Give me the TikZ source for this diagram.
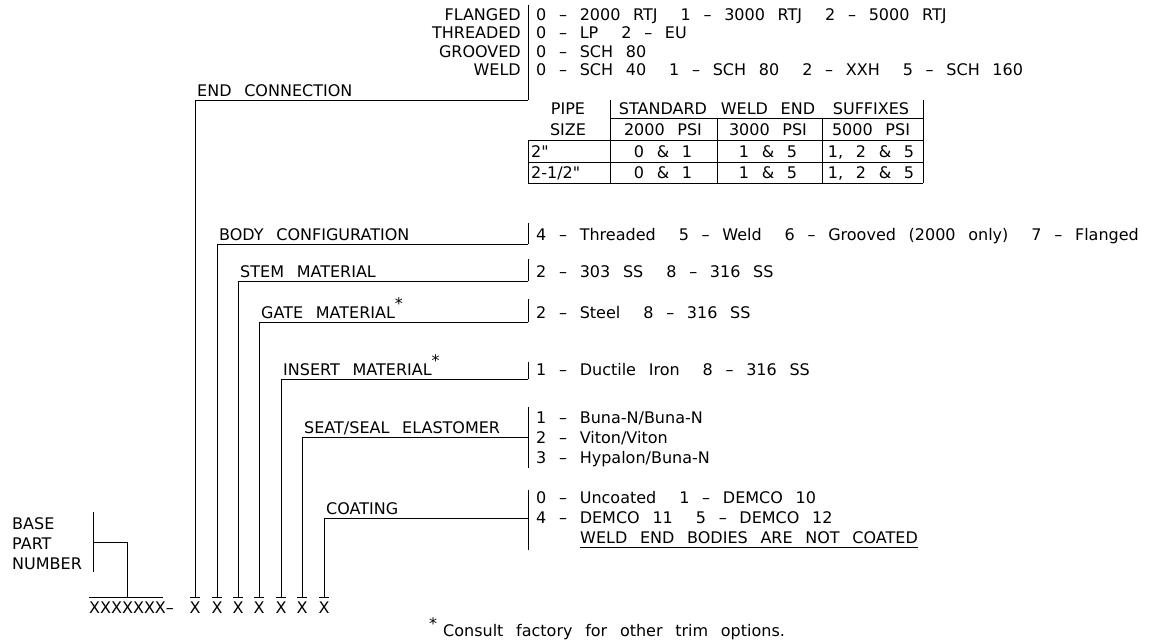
\documentclass[tikz,border=0pt]{standalone}
\usepackage{fontspec}
\setmainfont{DejaVu Sans}[WordSpace=2.5, Ligatures=TeXOff]
\usetikzlibrary{calc}
\newcommand{\optgap}{\hspace*{23pt}}

\begin{document}
\begin{tikzpicture}[
  x=1pt, y=-1pt,
  every node/.style={font=\fontsize{16}{20}\selectfont, inner sep=0pt},
  lbl/.style={anchor=base west},
  opt/.style={anchor=base west},
  key/.style={anchor=base east},
  cell/.style={anchor=base},
  lead/.style={line width=0.9pt},
  xch/.style={anchor=north, inner ysep=4.5pt},
]
\useasboundingbox (0,0) rectangle (1155,642);

% end connection block
\node[key] (kfl) at (521,21) {FLANGED};
\node[key] (kth) at (521,39) {THREADED};
\node[key] (kgr) at (521,57) {GROOVED};
\node[key] (kwe) at (521,75) {WELD};
\node[opt] (vfl) at (536,21) {0 – 2000 RTJ\optgap 1 – 3000 RTJ\optgap 2 – 5000 RTJ};
\node[opt] (vth) at (536,39) {0 – LP\optgap 2 – EU};
\node[opt] (vgr) at (536,57) {0 – SCH 80};
\node[opt] (vwe) at (536,75) {0 – SCH 40\optgap 1 – SCH 80\optgap 2 – XXH\optgap 5 – SCH 160};

% weld end table
\draw[lead] (610,100) -- (610,183);
\draw[lead] (923,100) -- (923,183);
\draw[lead] (717,118) -- (717,183);
\draw[lead] (822,118) -- (822,183);
\draw[lead] (528,140) -- (528,183);
\draw[lead] (610,118) -- (923,118);
\draw[lead] (528,140) -- (923,140);
\draw[lead] (528,162) -- (923,162);
\draw[lead] (528,183) -- (923,183);
\node[cell] (hpipe) at (568,114) {PIPE};
\node[cell] (hstd) at (663,114) {STANDARD};
\node[cell] (hweld) at (768,114) {WELD END};
\node[cell] (hsuf) at (871,114) {SUFFIXES};
\node[cell] (hsize) at (568,135) {SIZE};
\node[cell] (p2k) at (663,135) {2000 PSI};
\node[cell] (p3k) at (768,135) {3000 PSI};
\node[cell] (p5k) at (871,135) {5000 PSI};
\node[opt] (s2) at (531,157) {2"};
\node[cell] (s2a) at (663,157) {0 \& 1};
\node[cell] (s2b) at (768,157) {1 \& 5};
\node[cell] (s2c) at (871,157) {1, 2 \& 5};
\node[opt] (s25) at (531,178) {2-1/2"};
\node[cell] (s25a) at (663,178) {0 \& 1};
\node[cell] (s25b) at (768,178) {1 \& 5};
\node[cell] (s25c) at (871,178) {1, 2 \& 5};

% option bars
\coordinate (b1) at (528,100);
\coordinate (b2) at (528,244);
\coordinate (b3) at (528,281);
\coordinate (b4) at (528,322);
\coordinate (b5) at (528,379);
\coordinate (b6) at (528,437);
\coordinate (b7) at (528,518);
\draw[lead] (b1) -- ++(0,-95);
\draw[lead] (b2) -- ++(0,-21);
\draw[lead] (b3) -- ++(0,-22);
\draw[lead] (b4) -- ++(0,-23);
\draw[lead] (b5) -- ++(0,-17);
\draw[lead] (528,407) -- (528,468);
\draw[lead] (528,490) -- (528,550);

% field labels
\node[lbl] (lend) at (197,96) {END CONNECTION};
\node[lbl] (lbody) at (219,240) {BODY CONFIGURATION};
\node[lbl] (lstem) at (240,277) {STEM MATERIAL};
\node[lbl] (lgate) at (261,318) {GATE MATERIAL\raisebox{9pt}{*}};
\node[lbl] (lins) at (283,375) {INSERT MATERIAL\raisebox{9pt}{*}};
\node[lbl] (lseat) at (304,433) {SEAT/SEAL ELASTOMER};
\node[lbl] (lcoat) at (326,514) {COATING};

% option texts
\node[opt] (obody) at (536,240) {4 – Threaded\optgap 5 – Weld\optgap 6 – Grooved (2000 only)\optgap 7 – Flanged};
\node[opt] (ostem) at (536,277) {2 – 303 SS\optgap 8 – 316 SS};
\node[opt] (ogate) at (536,318) {2 – Steel\optgap 8 – 316 SS};
\node[opt] (oins) at (536,375) {1 – Ductile Iron\optgap 8 – 316 SS};
\node[opt] (oseat1) at (536,423) {1 – Buna-N/Buna-N};
\node[opt] (oseat2) at (536,443) {2 – Viton/Viton};
\node[opt] (oseat3) at (536,463) {3 – Hypalon/Buna-N};
\node[opt] (ocoat1) at (536,503) {0 – Uncoated\optgap 1 – DEMCO 10};
\node[opt] (ocoat2) at (536,523) {4 – DEMCO 11\optgap 5 – DEMCO 12};
\node[opt] (owend) at (580,543) {WELD END BODIES ARE NOT COATED};
\draw[lead] ([yshift=-4pt]owend.base west) -- ([yshift=-4pt]owend.base east);

% part number characters
\foreach \i/\xx in {1/195, 2/217, 3/238, 4/259, 5/281, 6/302, 7/324} {
  \node[xch] (x\i) at (\xx,597) {X};
  \draw[lead] ([xshift=-5pt]x\i.north) -- ([xshift=5pt]x\i.north);
  \draw[lead] (x\i.north) |- (b\i);
}
\node[xch, anchor=north west] (base) at (89,597) {XXXXXXX–};
\draw[lead] (base.north west) -- ++(74,0);

% base part number
\foreach \t/\yy [count=\k] in {BASE/529, PART/549, NUMBER/569}
  \node[lbl] (bp\k) at (12,\yy) {\t};
\draw[lead] (93,512) -- (93,572);
\draw[lead] (93,542) -| (127,597);

% footnote
\node[lbl] (note) at (429,636) {\raisebox{7pt}{*}\hspace{6pt}Consult factory for other trim options.};
\end{tikzpicture}
\end{document}
